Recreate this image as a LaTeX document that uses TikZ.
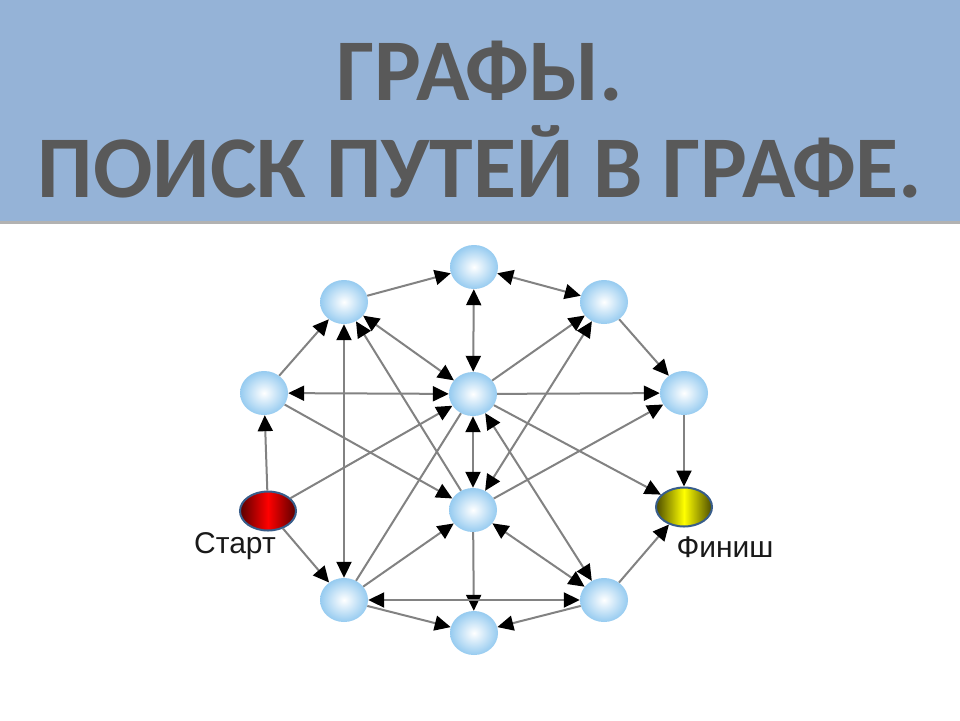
\documentclass[tikz,border=0pt]{standalone}
\usepackage{fontspec}
\setmainfont{Liberation Sans}
\newfontfamily\titlefont{Carlito}
\usetikzlibrary{arrows.meta,shapes.geometric}
\definecolor{banner}{RGB}{149,179,215}
\definecolor{titlegray}{RGB}{89,89,89}
\definecolor{edgegray}{RGB}{130,130,130}
\definecolor{ballblue}{RGB}{150,203,240}
\definecolor{rimblue}{RGB}{56,93,138}
\tikzset{
  ball/.style={ellipse, minimum width=48pt, minimum height=44pt, inner sep=0pt,
    shading=radial, inner color=white, outer color=ballblue},
  endpt/.style={ellipse, minimum width=56pt, minimum height=39pt, inner sep=0pt,
    draw=rimblue, line width=2pt},
  link/.style={draw=edgegray, line width=2pt},
  tip/.tip={Triangle[length=16pt,width=15pt,color=black]},
  lbl/.style={font=\fontsize{30}{32}\selectfont, text=black!90, inner sep=0pt, anchor=base}
}
\begin{document}
\begin{tikzpicture}[x=1pt,y=-1pt]
\useasboundingbox (0,0) rectangle (960,720);
\fill[white] (0,0) rectangle (960,720);
% banner
\fill[black!30] (0,221) rectangle (960,224);
\fill[banner] (0,0) rectangle (960,221);
\node[anchor=base, text=titlegray, inner sep=0pt] (t1) at (480,100)
  {\titlefont\bfseries\fontsize{88}{90}\selectfont ГРАФЫ.};
\node[anchor=base, text=titlegray, inner sep=0pt] (t2) at (480,197)
  {\titlefont\bfseries\fontsize{88}{90}\selectfont ПОИСК ПУТЕЙ В ГРАФЕ.};
% nodes
\node[ball] (T)  at (474,267) {};
\node[ball] (TL) at (344,302) {};
\node[ball] (TR) at (604,302) {};
\node[ball] (L)  at (264,393) {};
\node[ball] (C)  at (473,394) {};
\node[ball] (R)  at (684,393) {};
\node[ball] (M)  at (473,510) {};
\node[ball] (BL) at (344,600) {};
\node[ball] (BR) at (604,600) {};
\node[ball] (B)  at (474,633) {};
\node[endpt, left color=red!35!black, right color=red!35!black, middle color=red] (S) at (268,511) {};
\node[endpt, left color=yellow!30!black, right color=yellow!30!black, middle color=yellow] (F) at (684,507) {};
\node[lbl] (Sl) at (235,553) {Старт};
\node[lbl] (Fl) at (725,557) {Финиш};
% edges
\begin{scope}[link]
\draw[-tip] (TL) -- (T);
\draw[tip-tip] (T) -- (TR);
\draw[tip-tip] (T) -- (C);
\draw[-tip] (L) -- (TL);
\draw[tip-tip] (L) -- (C);
\draw[tip-tip] (TL) -- (C);
\draw[tip-tip] (TL) -- (BL);
\draw[-tip] (M) -- (TL);
\draw[-tip] (C) -- (TR);
\draw[tip-tip] (M) -- (TR);
\draw[-tip] (TR) -- (R);
\draw[-tip] (C) -- (R);
\draw[-tip] (C) -- (F);
\draw[-tip] (M) -- (R);
\draw[-tip] (R) -- (F);
\draw[-tip] (S) -- (L);
\draw[-tip] (S) -- (C);
\draw[-tip] (S) -- (BL);
\draw[-tip] (L) -- (M);
\draw (BL) -- (C);
\draw[-tip] (BL) -- (M);
\draw[tip-tip] (C) -- (M);
\draw[tip-tip] (C) -- (BR);
\draw[tip-tip] (M) -- (BR);
\draw[-tip] (M) -- (B);
\draw[tip-tip] (BL) -- (BR);
\draw[-tip] (BL) -- (B);
\draw[-tip] (BR) -- (B);
\draw[-tip] (BR) -- (F);
\end{scope}
\end{tikzpicture}
\end{document}
